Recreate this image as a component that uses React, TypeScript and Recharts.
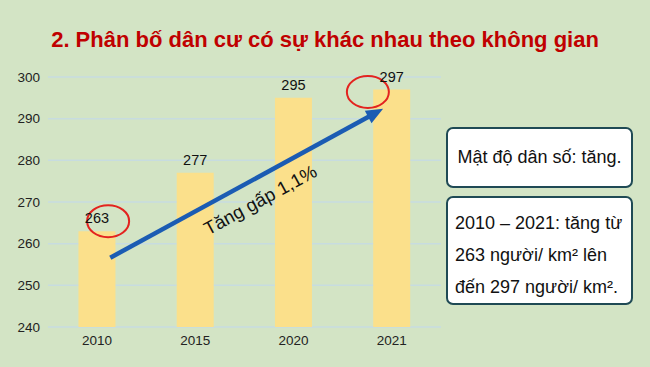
import React from 'react';
import { BarChart, Bar, XAxis, YAxis, CartesianGrid, LabelList, ReferenceLine, ReferenceDot } from 'recharts';

const years = ['2010', '2015', '2020', '2021'];
const density = [263, 277, 295, 297];
const yTicks = [240, 250, 260, 270, 280, 290, 300];

const data = years.map((year, i) => ({ year, density: density[i] }));

const FONT = '"Liberation Sans", Arial, sans-serif';

// arrow drawn over the bars, trimmed a little at both ends
function Arrow(props: any) {
  const { x1, y1, x2, y2 } = props;
  if (x1 == null) return null;
  const len = Math.hypot(x2 - x1, y2 - y1);
  const ux = (x2 - x1) / len;
  const uy = (y2 - y1) / len;
  const sx = x1 + ux * 15;
  const sy = y1 + uy * 15;
  const ex = x2 - ux * 10;
  const ey = y2 - uy * 10;
  const head = 17;
  const half = 7;
  const bx = ex - ux * head;
  const by = ey - uy * head;
  const angle = (Math.atan2(uy, ux) * 180) / Math.PI;
  const mx = (sx + ex) / 2;
  const my = (sy + ey) / 2;
  return (
    <g>
      <line x1={sx} y1={sy} x2={bx + ux * 2} y2={by + uy * 2} stroke="#1b5cb3" strokeWidth={4.5} />
      <polygon
        points={`${ex},${ey} ${bx - uy * half},${by + ux * half} ${bx + uy * half},${by - ux * half}`}
        fill="#1b5cb3"
      />
      <g transform={`translate(${mx},${my}) rotate(${angle})`}>
        <text x={4} y={21} textAnchor="middle" dominantBaseline="central" fontSize={18.5} fill="#111" fontFamily={FONT}>
          Tăng gấp 1,1%
        </text>
      </g>
    </g>
  );
}

function ring(dx: number) {
  return (props: any) => (
    <ellipse cx={props.cx + dx} cy={props.cy} rx={21} ry={16} fill="none" stroke="#e3231f" strokeWidth={2} />
  );
}

const boxStyle: React.CSSProperties = {
  position: 'absolute',
  left: 446,
  width: 187,
  boxSizing: 'border-box',
  background: '#fff',
  border: '2px solid #1f4a55',
  borderRadius: 7,
  fontFamily: FONT,
  fontSize: 18,
  color: '#111',
};

export default function App() {
  return (
    <div style={{ position: 'absolute', left: 0, top: 0, width: 650, height: 367, background: '#d3e4c5', overflow: 'hidden', fontFamily: FONT }}>
      <div style={{ position: 'absolute', top: 26, left: 0, width: 650, textAlign: 'center', color: '#c00000', fontWeight: 'bold', fontSize: 22, lineHeight: '28px' }}>
        2. Phân bố dân cư có sự khác nhau theo không gian
      </div>
      <div style={{ position: 'absolute', left: 0, top: 0 }}>
        <BarChart width={650} height={367} data={data} margin={{ top: 77, right: 209, left: 8, bottom: 0 }} barCategoryGap="31%">
          <CartesianGrid vertical={false} stroke="#c7dce0" strokeWidth={1.5} />
          <XAxis dataKey="year" tickLine={false} axisLine={false} height={40} tick={{ fill: '#222', fontSize: 13.5, fontFamily: FONT }} />
          <YAxis domain={[240, 300]} ticks={yTicks} width={40} tickLine={false} axisLine={false} tick={{ fill: '#222', fontSize: 13.5, fontFamily: FONT }} />
          <Bar dataKey="density" fill="#fbe08b" isAnimationActive={false}>
            <LabelList dataKey="density" position="top" offset={8} fill="#111" fontSize={14.5} fontFamily={FONT} />
          </Bar>
          <ReferenceLine segment={[{ x: '2010', y: 254.9 }, { x: '2021', y: 293.5 }]} shape={Arrow} ifOverflow="visible" />
          <ReferenceDot x="2010" y={265.4} shape={ring(11)} ifOverflow="visible" />
          <ReferenceDot x="2021" y={296.4} shape={ring(-24)} ifOverflow="visible" />
        </BarChart>
      </div>
      <div style={{ ...boxStyle, top: 127, height: 61, display: 'flex', alignItems: 'center', justifyContent: 'center' }}>
        Mật độ dân số: tăng.
      </div>
      <div style={{ ...boxStyle, top: 196, height: 109, padding: '9px 0 0 7px', lineHeight: '32px', whiteSpace: 'nowrap' }}>
        2010 – 2021: tăng từ
        <br />
        263 người/ km² lên
        <br />
        đến 297 người/ km².
      </div>
    </div>
  );
}
